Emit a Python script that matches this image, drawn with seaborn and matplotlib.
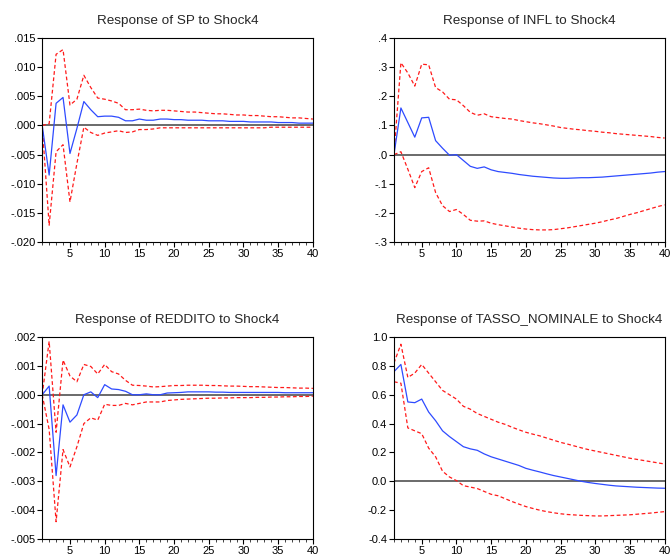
import numpy as np
import pandas as pd
import matplotlib
matplotlib.use("Agg")
import matplotlib.pyplot as plt
import seaborn as sns
from matplotlib.ticker import FixedLocator, MultipleLocator, FuncFormatter

periods = list(range(1, 41))

sp_resp = [0, -0.0085, 0.0038, 0.0048, -0.0048, -0.0005, 0.0041, 0.0027, 0.0015, 0.0016,
           0.0016, 0.0014, 0.0008, 0.0008, 0.0011, 0.0009, 0.0009, 0.0011, 0.0011, 0.0010,
           0.0010, 0.0009, 0.0009, 0.0009, 0.0008, 0.0008, 0.0008, 0.0007, 0.0007, 0.0007,
           0.0006, 0.0006, 0.0006, 0.0006, 0.0005, 0.0005, 0.0005, 0.0004, 0.0004, 0.0004]
sp_upper = [0, 0.0003, 0.0122, 0.0130, 0.0035, 0.0045, 0.0086, 0.0065, 0.0047, 0.0045,
            0.0042, 0.0038, 0.0027, 0.0027, 0.0028, 0.0026, 0.0025, 0.0026, 0.0026, 0.0025,
            0.0024, 0.0023, 0.0023, 0.0022, 0.0021, 0.0020, 0.0020, 0.0019, 0.0018, 0.0018,
            0.0017, 0.0017, 0.0016, 0.0015, 0.0015, 0.0014, 0.0013, 0.0013, 0.0012, 0.0011]
sp_lower = [0, -0.0171, -0.0045, -0.0033, -0.0131, -0.0065, -0.0003, -0.0012, -0.0017, -0.0013,
            -0.0011, -0.0009, -0.0012, -0.0011, -0.0007, -0.0007, -0.0006, -0.0004, -0.0004, -0.0004,
            -0.0004, -0.0004, -0.0004, -0.0004, -0.0004, -0.0004, -0.0004, -0.0004, -0.0004, -0.0004,
            -0.0004, -0.0004, -0.0004, -0.0003, -0.0003, -0.0003, -0.0003, -0.0003, -0.0003, -0.0003]

infl_resp = [0, 0.160, 0.110, 0.060, 0.126, 0.128, 0.048, 0.022, -0.002, 0.000,
             -0.020, -0.040, -0.047, -0.042, -0.052, -0.058, -0.061, -0.064, -0.068, -0.071,
             -0.074, -0.076, -0.078, -0.080, -0.081, -0.081, -0.080, -0.079, -0.079, -0.078,
             -0.077, -0.075, -0.073, -0.071, -0.069, -0.067, -0.065, -0.063, -0.060, -0.058]
infl_upper = [0, 0.315, 0.280, 0.235, 0.310, 0.308, 0.230, 0.215, 0.190, 0.188,
              0.168, 0.145, 0.135, 0.140, 0.130, 0.127, 0.124, 0.122, 0.117, 0.113,
              0.109, 0.106, 0.102, 0.098, 0.093, 0.090, 0.087, 0.085, 0.082, 0.080,
              0.077, 0.075, 0.072, 0.070, 0.068, 0.066, 0.064, 0.062, 0.059, 0.057]
infl_lower = [0, 0.010, -0.050, -0.113, -0.058, -0.045, -0.130, -0.175, -0.195, -0.188,
              -0.205, -0.225, -0.228, -0.227, -0.235, -0.240, -0.244, -0.248, -0.252, -0.255,
              -0.257, -0.258, -0.258, -0.257, -0.254, -0.251, -0.247, -0.243, -0.239, -0.235,
              -0.230, -0.224, -0.219, -0.212, -0.205, -0.199, -0.192, -0.185, -0.178, -0.172]

redd_resp = [0.0, 0.0003, -0.0028, -0.00035, -0.00095, -0.0007, 0.0, 0.0001, -0.0001, 0.00035,
             0.0002, 0.00018, 0.00012, 0.0, 0.0, 0.00003, 0.0, 0.0, 0.00006, 0.00007,
             0.00008, 0.0001, 0.0001, 0.0001, 0.0001, 0.00009, 0.00009, 0.00008, 0.00008, 0.00008,
             0.00008, 0.00008, 0.00008, 0.00008, 0.00008, 0.00007, 0.00007, 0.00007, 0.00007, 0.00007]
redd_upper = [0.0, 0.00185, -0.0013, 0.0012, 0.00065, 0.00045, 0.00105, 0.00098, 0.00072, 0.00105,
              0.0008, 0.00072, 0.0005, 0.00033, 0.00032, 0.0003, 0.00027, 0.00028, 0.0003, 0.00032,
              0.00032, 0.00033, 0.00033, 0.00033, 0.00032, 0.00032, 0.00031, 0.0003, 0.0003, 0.00029,
              0.00028, 0.00028, 0.00027, 0.00026, 0.00025, 0.00025, 0.00024, 0.00023, 0.00023, 0.00022]
redd_lower = [0.0, -0.0012, -0.0044, -0.0019, -0.0025, -0.0018, -0.0010, -0.0008, -0.00088, -0.00033,
              -0.00037, -0.00037, -0.0003, -0.00035, -0.0003, -0.00025, -0.00025, -0.00025, -0.0002, -0.00018,
              -0.00016, -0.00015, -0.00014, -0.00013, -0.00012, -0.00012, -0.00011, -0.00011, -0.0001, -0.0001,
              -0.0001, -0.00009, -0.00009, -0.00008, -0.00008, -0.00007, -0.00007, -0.00006, -0.00006, -0.00005]

tasso_resp = [0.76, 0.81, 0.55, 0.545, 0.57, 0.48, 0.42, 0.35, 0.31, 0.275,
              0.24, 0.225, 0.215, 0.19, 0.17, 0.155, 0.14, 0.125, 0.11, 0.09,
              0.077, 0.065, 0.052, 0.04, 0.03, 0.02, 0.01, 0.0, -0.008, -0.015,
              -0.021, -0.027, -0.032, -0.035, -0.038, -0.041, -0.043, -0.045, -0.047, -0.048]
tasso_upper = [0.82, 0.95, 0.72, 0.75, 0.81, 0.75, 0.69, 0.63, 0.60, 0.57,
               0.52, 0.50, 0.47, 0.45, 0.43, 0.41, 0.395, 0.375, 0.357, 0.34,
               0.327, 0.315, 0.30, 0.285, 0.27, 0.258, 0.245, 0.232, 0.22, 0.21,
               0.20, 0.19, 0.18, 0.17, 0.16, 0.152, 0.144, 0.136, 0.128, 0.12]
tasso_lower = [0.69, 0.68, 0.37, 0.35, 0.33, 0.23, 0.17, 0.07, 0.03, 0.005,
               -0.03, -0.04, -0.05, -0.07, -0.09, -0.10, -0.12, -0.14, -0.158, -0.175,
               -0.188, -0.20, -0.21, -0.218, -0.225, -0.23, -0.233, -0.236, -0.238, -0.24,
               -0.24, -0.238, -0.236, -0.234, -0.232, -0.228, -0.224, -0.22, -0.215, -0.21]

titles = ["Response of SP to Shock4", "Response of INFL to Shock4",
          "Response of REDDITO to Shock4", "Response of TASSO_NOMINALE to Shock4"]
yticks = [[0.015, 0.010, 0.005, 0.0, -0.005, -0.010, -0.015, -0.020],
          [0.4, 0.3, 0.2, 0.1, 0.0, -0.1, -0.2, -0.3],
          [0.002, 0.001, 0.0, -0.001, -0.002, -0.003, -0.004, -0.005],
          [1.0, 0.8, 0.6, 0.4, 0.2, 0.0, -0.2, -0.4]]
decimals = [3, 1, 3, 1]
strip_zero = [True, True, True, False]

sns.set_style("ticks")
plt.rcParams["font.family"] = ["Liberation Sans", "DejaVu Sans"]

fig = plt.figure(figsize=(6.7, 5.58), dpi=100)
positions = [[0.063, 0.566, 0.404, 0.366], [0.588, 0.566, 0.404, 0.366],
             [0.063, 0.034, 0.404, 0.362], [0.588, 0.034, 0.404, 0.362]]
series = [(sp_resp, sp_upper, sp_lower), (infl_resp, infl_upper, infl_lower),
          (redd_resp, redd_upper, redd_lower), (tasso_resp, tasso_upper, tasso_lower)]


def make_fmt(dec, strip):
    def f(v, pos):
        s = f"{v:.{dec}f}"
        if strip:
            s = s.replace("0.", ".", 1)
        return s
    return f


for i in range(4):
    ax = fig.add_axes(positions[i])
    resp, upper, lower = series[i]
    df = pd.DataFrame({"period": periods, "resp": resp, "upper": upper, "lower": lower})
    ax.axhline(0, color="#6a6a6a", lw=1.4, zorder=1)
    sns.lineplot(data=df, x="period", y="upper", ax=ax, color="#ff1a1a", lw=0.9,
                 linestyle=(0, (3, 2)))
    sns.lineplot(data=df, x="period", y="lower", ax=ax, color="#ff1a1a", lw=0.9,
                 linestyle=(0, (3, 2)))
    sns.lineplot(data=df, x="period", y="resp", ax=ax, color="#2e4bff", lw=0.9)
    ax.set_xlim(1, 40)
    ax.set_ylim(min(yticks[i]), max(yticks[i]))
    ax.xaxis.set_major_locator(FixedLocator([5, 10, 15, 20, 25, 30, 35, 40]))
    ax.xaxis.set_minor_locator(MultipleLocator(1))
    ax.yaxis.set_major_locator(FixedLocator(yticks[i]))
    ax.yaxis.set_major_formatter(FuncFormatter(make_fmt(decimals[i], strip_zero[i])))
    ax.tick_params(axis="both", which="major", labelsize=8, length=3.5, width=0.8,
                   direction="out", pad=1.5, colors="black")
    ax.tick_params(axis="x", which="minor", length=2, width=0.6, direction="out")
    ax.set_xlabel("")
    ax.set_ylabel("")
    ax.set_title(titles[i], fontsize=9.7, pad=10)
    for sp in ax.spines.values():
        sp.set_linewidth(0.8)
        sp.set_color("black")

fig.savefig("out.png", dpi=100)
